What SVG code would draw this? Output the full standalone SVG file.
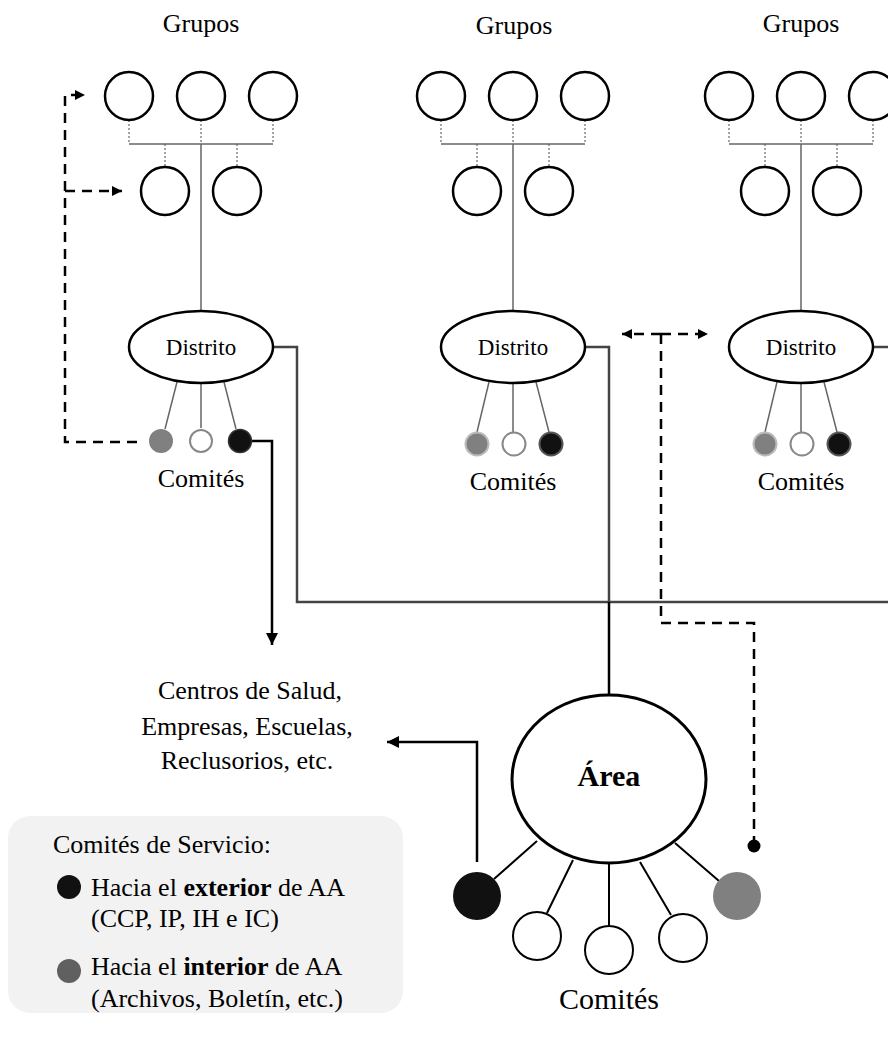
<svg xmlns="http://www.w3.org/2000/svg" width="888" height="1038" viewBox="0 0 888 1038">
  <defs>
    <style>
      text { font-family: "Liberation Serif", "Times New Roman", serif; fill: #000; }
      .lbl { font-size: 26px; text-anchor: middle; }
      .grp { fill: #fff; stroke: #000; stroke-width: 2.5; }
      .dot { fill: none; stroke: #888; stroke-width: 1.5; stroke-dasharray: 2 2; }
      .thin { fill: none; stroke: #666; stroke-width: 1.5; }
      .dist { fill: #fff; stroke: #000; stroke-width: 2.5; }
      .cw { fill: #fff; stroke: #888; stroke-width: 2; }
      .cb { fill: #111; stroke: #555; stroke-width: 2; }
      .dash { fill: none; stroke: #000; stroke-width: 2.5; stroke-dasharray: 10 7; }
      .solid { fill: none; stroke: #000; stroke-width: 2.5; }
      .trunk { fill: none; stroke: #444; stroke-width: 2.5; }
      .spoke { fill: none; stroke: #000; stroke-width: 2; }
    </style>
    <marker id="arr" viewBox="0 0 10 10" refX="10" refY="5" markerWidth="10" markerHeight="10" markerUnits="userSpaceOnUse" orient="auto-start-reverse">
      <path d="M0,0 L10,5 L0,10 z" fill="#000"/>
    </marker>
    <marker id="arrBig" viewBox="0 0 12 12" refX="12" refY="6" markerWidth="12" markerHeight="12" markerUnits="userSpaceOnUse" orient="auto-start-reverse">
      <path d="M0,0 L12,6 L0,12 z" fill="#000"/>
    </marker>
  </defs>

  <!-- connectors -->
  <g id="connectors">
    <!-- district 1 group tree -->
    <path class="dot" d="M129,120 V144 M201,120 V144 M273,120 V144 M165,144 V167 M237,144 V167"/>
    <path class="thin" d="M129,144 H273 M201,144 V311"/>
    <path class="thin" d="M177,382 L165,429 M201,383 V428 M224,382 L236,429"/>
    <!-- district 2 group tree -->
    <path class="dot" d="M441,120 V144 M513,120 V144 M585,120 V144 M477,144 V167 M549,144 V167"/>
    <path class="thin" d="M441,144 H585 M513,144 V311"/>
    <path class="thin" d="M489,382 L477,432 M513,383 V432 M536,382 L549,432"/>
    <!-- district 3 group tree -->
    <path class="dot" d="M729,120 V144 M801,120 V144 M873,120 V144 M765,144 V167 M837,144 V167"/>
    <path class="thin" d="M729,144 H873 M801,144 V311"/>
    <path class="thin" d="M777,382 L765,432 M801,383 V432 M824,382 L837,432"/>

    <!-- districts to area -->
    <path class="trunk" d="M273,347 H297 V602 H888"/>
    <path class="trunk" d="M585,347 H609 V602"/>
    <path class="trunk" d="M873,347 H888"/>
    <path class="solid" stroke-width="3" d="M609,602 V695"/>

    <!-- external committee of district 1 -->
    <path class="solid" d="M252,441 H272 V645" marker-end="url(#arrBig)"/>
    <!-- internal committee of district 1 -->
    <path class="dash" d="M137,442 H65 V95 H85" marker-end="url(#arr)"/>
    <path class="dash" d="M65,191 H122" marker-end="url(#arr)"/>
    <!-- internal committee of area -->
    <path class="dash" d="M754,846 V623 H661 V334"/>
    <path class="dash" d="M661,334 H708" marker-end="url(#arr)"/>
    <path class="dash" d="M661,334 H622" marker-end="url(#arr)"/>
    <circle cx="754" cy="846" r="6.5" fill="#000"/>
    <!-- external committee of area -->
    <path class="solid" d="M477,862 V742 H387" marker-end="url(#arrBig)"/>

    <!-- area spokes -->
    <path class="spoke" d="M537,841 L494,879 M573,860 L547,913 M609,864 V926 M640,862 L671,915 M675,843 L719,881"/>
  </g>

  <!-- district 1 -->
  <g id="district-1">
    <text class="lbl" x="201" y="32">Grupos</text>
    <circle class="grp" cx="129" cy="96" r="24"/>
    <circle class="grp" cx="201" cy="96" r="24"/>
    <circle class="grp" cx="273" cy="96" r="24"/>
    <circle class="grp" cx="165" cy="191" r="24"/>
    <circle class="grp" cx="237" cy="191" r="24"/>
    <ellipse class="dist" cx="201" cy="347" rx="72" ry="36"/>
    <text x="201" y="355" font-size="23" text-anchor="middle">Distrito</text>
    <circle cx="161" cy="441" r="12" fill="#808080"/>
    <circle class="cw" cx="201" cy="441" r="11"/>
    <circle cx="240" cy="441" r="11.5" fill="#111" stroke="#333" stroke-width="1.5"/>
    <text class="lbl" x="201" y="487">Comités</text>
  </g>

  <!-- district 2 -->
  <g id="district-2">
    <text class="lbl" x="514" y="34">Grupos</text>
    <circle class="grp" cx="441" cy="96" r="24"/>
    <circle class="grp" cx="513" cy="96" r="24"/>
    <circle class="grp" cx="585" cy="96" r="24"/>
    <circle class="grp" cx="477" cy="191" r="24"/>
    <circle class="grp" cx="549" cy="191" r="24"/>
    <ellipse class="dist" cx="513" cy="347" rx="72" ry="36"/>
    <text x="513" y="355" font-size="23" text-anchor="middle">Distrito</text>
    <circle cx="477" cy="444" r="11.5" fill="#808080" stroke="#bbb" stroke-width="2"/>
    <circle class="cw" cx="514" cy="444" r="11.5"/>
    <circle class="cb" cx="551" cy="444" r="11.5"/>
    <text class="lbl" x="513" y="490">Comités</text>
  </g>

  <!-- district 3 -->
  <g id="district-3">
    <text class="lbl" x="801" y="32">Grupos</text>
    <circle class="grp" cx="729" cy="96" r="24"/>
    <circle class="grp" cx="801" cy="96" r="24"/>
    <circle class="grp" cx="873" cy="96" r="24"/>
    <circle class="grp" cx="765" cy="191" r="24"/>
    <circle class="grp" cx="837" cy="191" r="24"/>
    <ellipse class="dist" cx="801" cy="347" rx="72" ry="36"/>
    <text x="801" y="355" font-size="23" text-anchor="middle">Distrito</text>
    <circle cx="765" cy="444" r="11.5" fill="#808080" stroke="#bbb" stroke-width="2"/>
    <circle class="cw" cx="802" cy="444" r="11.5"/>
    <circle class="cb" cx="839" cy="444" r="11.5"/>
    <text class="lbl" x="801" y="490">Comités</text>
  </g>

  <!-- outside destinations -->
  <g id="outside">
    <text class="lbl" x="250" y="699">Centros de Salud,</text>
    <text class="lbl" x="247" y="735">Empresas, Escuelas,</text>
    <text class="lbl" x="247" y="769">Reclusorios, etc.</text>
  </g>

  <!-- area -->
  <g id="area">
    <ellipse cx="609" cy="779" rx="97" ry="84" fill="#fff" stroke="#000" stroke-width="3"/>
    <text x="609" y="786" font-size="30" font-weight="bold" text-anchor="middle">Área</text>
    <circle cx="477" cy="896" r="24" fill="#111"/>
    <circle cx="537" cy="936" r="24" fill="#fff" stroke="#000" stroke-width="2"/>
    <circle cx="609" cy="950" r="24" fill="#fff" stroke="#000" stroke-width="2"/>
    <circle cx="683" cy="938" r="24" fill="#fff" stroke="#000" stroke-width="2"/>
    <circle cx="737" cy="896" r="24" fill="#808080"/>
    <text x="609" y="1009" font-size="30" text-anchor="middle">Comités</text>
  </g>

  <!-- legend -->
  <g id="legend">
    <rect x="8" y="816" width="395" height="197" rx="22" fill="#f2f2f2"/>
    <text x="53" y="853" font-size="26">Comités de Servicio:</text>
    <circle cx="69" cy="887" r="12" fill="#111"/>
    <text x="91" y="896" font-size="26">Hacia el <tspan font-weight="bold">exterior</tspan> de AA</text>
    <text x="91" y="927" font-size="26">(CCP, IP, IH e IC)</text>
    <circle cx="69" cy="971" r="12" fill="#606060"/>
    <text x="91" y="975" font-size="26">Hacia el <tspan font-weight="bold">interior</tspan> de AA</text>
    <text x="91" y="1007" font-size="26">(Archivos, Boletín, etc.)</text>
  </g>
</svg>
